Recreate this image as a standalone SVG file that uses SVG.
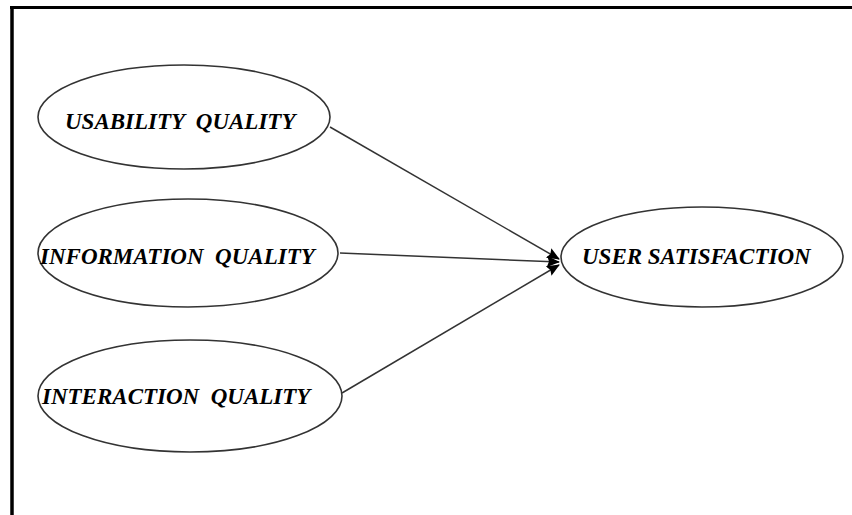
<svg xmlns="http://www.w3.org/2000/svg" width="852" height="515" viewBox="0 0 852 515">
  <style>
    .node ellipse { fill: #ffffff; stroke: #333333; stroke-width: 1.6; }
    .node text { font-family: "Liberation Serif", "Times New Roman", serif; font-size: 23px; font-weight: bold; font-style: italic; fill: #000000; white-space: pre; }
    .edge { stroke: #333333; stroke-width: 1.5; fill: none; marker-end: url(#arrow); }
    .frame { stroke: #000000; fill: none; }
  </style>
  <defs>
    <marker id="arrow" viewBox="0 0 13 11" refX="12" refY="5.5" markerWidth="13" markerHeight="11" markerUnits="userSpaceOnUse" orient="auto">
      <path d="M0,0 L13,5.5 L0,11 L2,5.5 Z" fill="#000000"/>
    </marker>
  </defs>
  <rect x="0" y="0" width="852" height="515" fill="#ffffff"/>

  <!-- open frame: top and left edges only -->
  <g id="frame">
    <line class="frame" x1="10" y1="7.5" x2="852" y2="7.5" stroke-width="3"/>
    <line class="frame" x1="12" y1="6" x2="12" y2="515" stroke-width="3.5"/>
  </g>

  <g id="connectors">
    <line class="edge" x1="330" y1="127" x2="559" y2="259"/>
    <line class="edge" x1="340" y1="253" x2="559" y2="262"/>
    <line class="edge" x1="342" y1="393" x2="559" y2="265"/>
  </g>

  <g id="usability-quality" class="node">
    <ellipse cx="184" cy="117" rx="146" ry="52"/>
    <text x="65" y="129" xml:space="preserve">USABILITY  QUALITY</text>
  </g>

  <g id="information-quality" class="node">
    <ellipse cx="188" cy="253" rx="150" ry="54"/>
    <text x="40" y="264" xml:space="preserve">INFORMATION  QUALITY</text>
  </g>

  <g id="interaction-quality" class="node">
    <ellipse cx="190" cy="396" rx="152" ry="56"/>
    <text x="42" y="404" xml:space="preserve">INTERACTION  QUALITY</text>
  </g>

  <g id="user-satisfaction" class="node">
    <ellipse cx="702" cy="257" rx="141" ry="50"/>
    <text x="582" y="264">USER SATISFACTION</text>
  </g>
</svg>
